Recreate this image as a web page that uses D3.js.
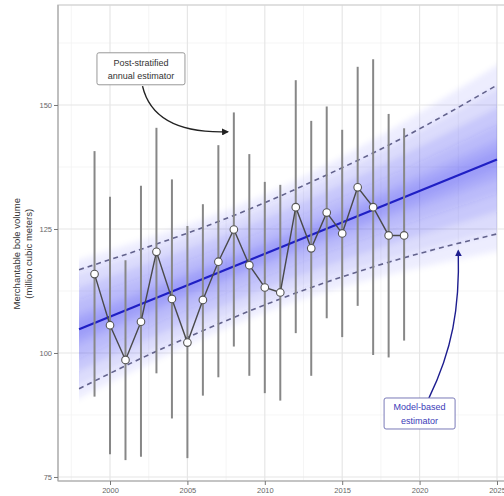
<!DOCTYPE html>
<html>
<head>
<meta charset="utf-8">
<script src="https://cdn.jsdelivr.net/npm/d3@7"></script>
<style>
  body { margin: 0; background: #fff; }
  svg { display: block; font-family: "Liberation Sans", Arial, sans-serif; }
</style>
</head>
<body>
<div class="chart"></div>
<script>
// annual post-stratified estimates with interval
const years = [1999, 2000, 2001, 2002, 2003, 2004, 2005, 2006, 2007, 2008, 2009,
               2010, 2011, 2012, 2013, 2014, 2015, 2016, 2017, 2018, 2019];
const estimate = [115.9, 105.6, 98.6, 106.3, 120.4, 110.9, 102.1, 110.7, 118.4, 124.9, 117.7,
                  113.2, 112.2, 129.4, 121.1, 128.3, 124.1, 133.4, 129.4, 123.7, 123.7];
const upperCI = [140.7, 131.5, 118.7, 133.7, 145.4, 135.0, 125.6, 130.0, 141.9, 148.5, 140.1,
                 134.5, 133.9, 155.0, 146.8, 149.7, 145.0, 157.7, 159.2, 148.2, 145.3];
const lowerCI = [91.2, 79.6, 78.4, 79.1, 95.9, 86.8, 78.8, 91.4, 95.1, 101.3, 95.4,
                 91.9, 90.4, 104.0, 95.4, 107.0, 103.2, 109.5, 99.6, 99.1, 102.5];

// model-based trend
const trendYears = [1998, 2025];
const trendValues = [104.8, 139.0];

// prediction interval (dashed)
const piYears = [1998, 2002, 2006, 2010, 2014, 2018, 2021, 2025];
const piUpper = [116.8, 120.9, 125.3, 130.3, 135.9, 141.9, 146.9, 154.0];
const piLower = [92.8, 98.9, 104.5, 109.7, 114.3, 118.3, 120.9, 124.0];

// spread of the posterior trend lines, outer to inner
const bandYears = [1998, 2011, 2025];
const bandUpper = [
  [118.8, 133.3, 158.0],
  [116.3, 131.0, 153.5],
  [113.3, 128.5, 149.5],
  [110.8, 126.0, 146.0],
  [108.0, 123.8, 143.0],
  [106.5, 122.6, 141.0]
];
const bandLower = [
  [90.8, 109.3, 120.5],
  [93.3, 111.6, 124.5],
  [96.3, 114.1, 128.5],
  [98.8, 116.6, 132.0],
  [101.6, 118.8, 135.0],
  [103.1, 120.0, 137.0]
];

const yTicks = [75, 100, 125, 150];
const xTicks = [2000, 2005, 2010, 2015, 2020, 2025];

const W = 504, H = 496;
const margin = {top: 5, right: -8, bottom: 15, left: 58};
const width = W - margin.left - margin.right;
const height = H - margin.top - margin.bottom;

const svg = d3.select(".chart").append("svg")
    .attr("width", W)
    .attr("height", H);

const x = d3.scaleLinear().domain([1996.64, 2025.97]).range([0, width]);
const y = d3.scaleLinear().domain([74.19, 170.16]).range([height, 0]);

const defs = svg.append("defs");
defs.append("filter").attr("id", "soft")
    .attr("x", "-5%").attr("y", "-20%").attr("width", "110%").attr("height", "140%")
  .append("feGaussianBlur").attr("stdDeviation", "0 3");

const g = svg.append("g")
    .attr("transform", `translate(${margin.left},${margin.top})`);

g.append("clipPath").attr("id", "clip")
  .append("rect").attr("width", width).attr("height", height);

// grid
const minorX = d3.range(1997.5, 2026, 5);
const minorY = [87.5, 112.5, 137.5, 162.5];
g.selectAll(".mx").data(minorX).enter().append("line")
    .attr("x1", d => x(d)).attr("x2", d => x(d))
    .attr("y1", 0).attr("y2", height)
    .attr("stroke", "#f3f3f3").attr("stroke-width", 0.8);
g.selectAll(".my").data(minorY).enter().append("line")
    .attr("x1", 0).attr("x2", width)
    .attr("y1", d => y(d)).attr("y2", d => y(d))
    .attr("stroke", "#f3f3f3").attr("stroke-width", 0.8);
g.selectAll(".gx").data(xTicks).enter().append("line")
    .attr("x1", d => x(d)).attr("x2", d => x(d))
    .attr("y1", 0).attr("y2", height)
    .attr("stroke", "#e6e6e6").attr("stroke-width", 1.2);
g.selectAll(".gy").data(yTicks).enter().append("line")
    .attr("x1", 0).attr("x2", width)
    .attr("y1", d => y(d)).attr("y2", d => y(d))
    .attr("stroke", "#e6e6e6").attr("stroke-width", 1.2);

const plot = g.append("g").attr("clip-path", "url(#clip)");

// trend band
const area = d3.area()
    .x(d => x(d.year))
    .y0(d => y(d.lo))
    .y1(d => y(d.hi))
    .curve(d3.curveMonotoneX);

const bandG = plot.append("g").attr("filter", "url(#soft)");
bandUpper.forEach((up, i) => {
  const pts = bandYears.map((yr, j) => ({year: yr, lo: bandLower[i][j], hi: up[j]}));
  bandG.append("path")
      .datum(pts)
      .attr("d", area)
      .attr("fill", "#2a2af0")
      .attr("fill-opacity", i === 0 ? 0.07 : 0.1);
});

// trend line
plot.append("line")
    .attr("x1", x(trendYears[0])).attr("y1", y(trendValues[0]))
    .attr("x2", x(trendYears[1])).attr("y2", y(trendValues[1]))
    .attr("stroke", "#1f1fc4").attr("stroke-width", 2.2);

// prediction interval
const piLine = d3.line()
    .x(d => x(d[0]))
    .y(d => y(d[1]))
    .curve(d3.curveMonotoneX);
[piUpper, piLower].forEach(vals => {
  plot.append("path")
      .datum(piYears.map((yr, j) => [yr, vals[j]]))
      .attr("d", piLine)
      .attr("fill", "none")
      .attr("stroke", "#62628c")
      .attr("stroke-width", 1.6)
      .attr("stroke-dasharray", "5,4");
});

// error bars
plot.selectAll(".err").data(years).enter().append("line")
    .attr("x1", d => x(d)).attr("x2", d => x(d))
    .attr("y1", (d, i) => y(upperCI[i]))
    .attr("y2", (d, i) => y(lowerCI[i]))
    .attr("stroke", "#878787").attr("stroke-width", 2);

// connecting line
plot.append("path")
    .datum(years.map((yr, i) => [yr, estimate[i]]))
    .attr("d", d3.line().x(d => x(d[0])).y(d => y(d[1])))
    .attr("fill", "none")
    .attr("stroke", "#4a4a4a").attr("stroke-width", 1.4);

plot.selectAll(".pt").data(years).enter().append("circle")
    .attr("cx", d => x(d))
    .attr("cy", (d, i) => y(estimate[i]))
    .attr("r", 3.8)
    .attr("fill", "#fff")
    .attr("stroke", "#555").attr("stroke-width", 1.1);

// panel border + axes
g.append("rect")
    .attr("width", width).attr("height", height)
    .attr("fill", "none").attr("stroke", "#d6d6d6").attr("stroke-width", 1.5);
g.append("line").attr("x1", 0).attr("x2", 0).attr("y1", 0).attr("y2", height)
    .attr("stroke", "#a8a8a8").attr("stroke-width", 1.2);
g.append("line").attr("x1", 0).attr("x2", width).attr("y1", height).attr("y2", height)
    .attr("stroke", "#a8a8a8").attr("stroke-width", 1.2);

const yAxis = g.append("g")
    .call(d3.axisLeft(y).tickValues(yTicks).tickSize(4).tickPadding(2));
const xAxis = g.append("g")
    .attr("transform", `translate(0,${height})`)
    .call(d3.axisBottom(x).tickValues(xTicks).tickFormat(d3.format("d")).tickSize(4).tickPadding(3));
[yAxis, xAxis].forEach(ax => {
  ax.select(".domain").remove();
  ax.selectAll("line").attr("stroke", "#777");
  ax.selectAll("text").attr("fill", "#666").style("font-size", "7.5px");
});

// y title
const yt = svg.append("text")
    .attr("transform", `translate(20,${margin.top + y(120)}) rotate(-90)`)
    .attr("text-anchor", "middle")
    .attr("fill", "#333")
    .style("font-size", "9.5px");
yt.append("tspan").attr("x", 0).attr("dy", 0).text("Merchantable bole volume");
yt.append("tspan").attr("x", 0).attr("dy", "1.25em").text("(million cubic meters)");

// annotations
function marker(id, col) {
  defs.append("marker")
      .attr("id", id)
      .attr("viewBox", "0 0 10 10")
      .attr("refX", 8).attr("refY", 5)
      .attr("markerWidth", 5).attr("markerHeight", 5)
      .attr("orient", "auto")
    .append("path").attr("d", "M0,0L10,5L0,10Z").attr("fill", col);
}
marker("arrBlack", "#222");
marker("arrBlue", "#1d1d8f");

function label(cx, cy, lines, w, h, textCol, boxCol) {
  const px = x(cx), py = y(cy);
  g.append("rect")
      .attr("x", px - w / 2).attr("y", py - h / 2)
      .attr("width", w).attr("height", h)
      .attr("rx", 2)
      .attr("fill", "#fff").attr("stroke", boxCol).attr("stroke-width", 1);
  const t = g.append("text")
      .attr("text-anchor", "middle")
      .attr("fill", textCol)
      .style("font-size", "9px");
  lines.forEach((s, i) => {
    t.append("tspan").attr("x", px).attr("y", py - 3 + i * 13.5).text(s);
  });
}

// Post-stratified arrow
g.append("path")
    .attr("d", `M${x(2002.1)},${y(153.8)} C${x(2002.6)},${y(147.2)} ${x(2004.5)},${y(144.3)} ${x(2007.6)},${y(144.6)}`)
    .attr("fill", "none").attr("stroke", "#222").attr("stroke-width", 1.4)
    .attr("marker-end", "url(#arrBlack)");
label(2002, 157.3, ["Post-stratified", "annual estimator"], 88, 32, "#333", "#999");

// Model-based arrow
g.append("path")
    .attr("d", `M${x(2020.6)},${y(90.9)} C${x(2022.1)},${y(100.5)} ${x(2022.6)},${y(109)} ${x(2022.5)},${y(120.6)}`)
    .attr("fill", "none").attr("stroke", "#1d1d8f").attr("stroke-width", 1.4)
    .attr("marker-end", "url(#arrBlue)");
label(2020, 87.8, ["Model-based", "estimator"], 71, 31, "#3b3bb8", "#7a7ab8");
</script>
</body>
</html>
